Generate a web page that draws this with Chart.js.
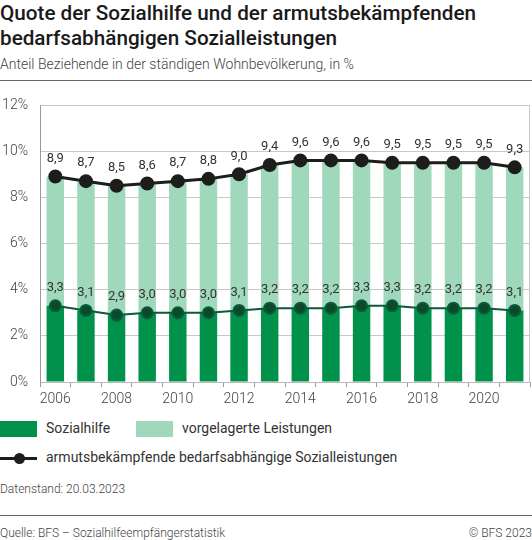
<!DOCTYPE html>
<html>
<head>
<meta charset="utf-8">
<script src="https://cdn.jsdelivr.net/npm/chart.js@4"></script>
<style>
    body { margin: 0; width: 532px; height: 540px; background: #fff; font-family: Roboto, sans-serif; color: #222; position: relative; overflow: hidden; }
    .title { position: absolute; left: 0; top: 1px; font-size: 20.7px; font-weight: 500; line-height: 25px; color: #1a1a1a; }
    .subtitle { position: absolute; left: 0; top: 56px; font-size: 14px; font-weight: 300; color: #444; }
    .rule { position: absolute; left: 0; width: 532px; height: 1px; background: #666; }
    #wrap { position: absolute; left: 0; top: 92px; width: 532px; height: 318px; }
    .leg { position: absolute; font-size: 14px; color: #333; }
    .box { position: absolute; width: 37px; height: 16px; }
    .small { position: absolute; font-size: 12px; color: #444; font-weight: 300; }
</style>
</head>
<body>
<div class="title">Quote der Sozialhilfe und der armutsbekämpfenden<br>bedarfsabhängigen Sozialleistungen</div>
<div class="subtitle">Anteil Beziehende in der ständigen Wohnbevölkerung, in %</div>
<div class="rule" style="top:80px;"></div>
<div id="wrap"><canvas id="chart"></canvas></div>

<div class="box" style="left:0; top:421px; background:#00924a;"></div>
<div class="leg" style="left:46px; top:420px;">Sozialhilfe</div>
<div class="box" style="left:136px; top:421px; background:#9fd8bb;"></div>
<div class="leg" style="left:182px; top:420px;">vorgelagerte Leistungen</div>
<div style="position:absolute; left:0; top:457px; width:37px; height:3px; background:#1d1d1b;"></div>
<div style="position:absolute; left:14px; top:453px; width:11px; height:11px; border-radius:50%; background:#1d1d1b;"></div>
<div class="leg" style="left:46px; top:449px;">armutsbekämpfende bedarfsabhängige Sozialleistungen</div>
<div class="small" style="left:0; top:482px;">Datenstand: 20.03.2023</div>
<div class="rule" style="top:515px;"></div>
<div class="small" style="left:0; top:526px;">Quelle: BFS – Sozialhilfeempfängerstatistik</div>
<div class="small" style="right:0; top:526px;">© BFS 2023</div>

<script>
const years = ['2006', '2007', '2008', '2009', '2010', '2011', '2012', '2013',
               '2014', '2015', '2016', '2017', '2018', '2019', '2020', '2021'];
const sozialhilfe = [3.3, 3.1, 2.9, 3.0, 3.0, 3.0, 3.1, 3.2, 3.2, 3.2, 3.3, 3.3, 3.2, 3.2, 3.2, 3.1];
const total = [8.9, 8.7, 8.5, 8.6, 8.7, 8.8, 9.0, 9.4, 9.6, 9.6, 9.6, 9.5, 9.5, 9.5, 9.5, 9.3];
const yTicks = [0, 2, 4, 6, 8, 10, 12];

// values above the line points, with decimal comma
const valueLabels = {
    id: 'valueLabels',
    afterDatasetsDraw(chart) {
        const ctx = chart.ctx;
        ctx.save();
        ctx.font = '13px Roboto, sans-serif';
        ctx.fillStyle = '#333';
        ctx.textAlign = 'center';
        ctx.textBaseline = 'middle';
        chart.data.datasets.forEach((ds, i) => {
            if (ds.type !== 'line') return;
            chart.getDatasetMeta(i).data.forEach((pt, j) => {
                ctx.fillText(ds.data[j].toFixed(1).replace('.', ','), pt.x, pt.y - 18);
            });
        });
        ctx.restore();
    }
};

// right border of the plot box
const frame = {
    id: 'frame',
    beforeDatasetsDraw(chart) {
        const a = chart.chartArea;
        const ctx = chart.ctx;
        ctx.save();
        ctx.strokeStyle = '#c8c8c8';
        ctx.lineWidth = 1;
        ctx.beginPath();
        ctx.moveTo(a.right - 0.5, a.top);
        ctx.lineTo(a.right - 0.5, a.bottom);
        ctx.stroke();
        ctx.restore();
    }
};

new Chart(document.getElementById('chart'), {
    type: 'bar',
    data: {
        labels: years,
        datasets: [
            {
                type: 'line',
                label: 'armutsbekämpfende bedarfsabhängige Sozialleistungen',
                data: total,
                borderColor: '#1d1d1b',
                backgroundColor: '#1d1d1b',
                borderWidth: 3,
                pointRadius: 5.5,
                tension: 0,
                order: 0
            },
            {
                type: 'line',
                label: 'Sozialhilfe (Linie)',
                data: sozialhilfe,
                borderColor: '#0b5a3c',
                backgroundColor: '#0a4a28',
                borderWidth: 2,
                pointRadius: 5.5,
                tension: 0,
                order: 1
            },
            {
                label: 'Sozialhilfe',
                data: sozialhilfe,
                backgroundColor: '#00924a',
                barPercentage: 0.57,
                categoryPercentage: 1,
                grouped: false,
                order: 3
            },
            {
                label: 'vorgelagerte Leistungen',
                data: years.map((y, i) => [sozialhilfe[i], total[i]]),
                backgroundColor: '#9fd8bb',
                barPercentage: 0.57,
                categoryPercentage: 1,
                grouped: false,
                order: 4
            }
        ]
    },
    options: {
        responsive: true,
        maintainAspectRatio: false,
        animation: false,
        layout: { autoPadding: false, padding: { top: 13, right: 2, left: 0, bottom: 0 } },
        plugins: { legend: { display: false }, tooltip: { enabled: false } },
        scales: {
            x: {
                offset: true,
                grid: { offset: true, drawOnChartArea: false, color: '#999', tickLength: 5 },
                border: { color: '#bbb' },
                ticks: {
                    autoSkip: false, maxRotation: 0, padding: 4, color: '#444',
                    font: { family: 'Roboto', size: 14, weight: '300' },
                    callback: (v, i) => (i % 2 === 0 ? years[i] : '')
                },
                afterFit: s => { s.height = 28; s.paddingLeft = 0; s.paddingRight = 0; }
            },
            y: {
                min: 0, max: 12,
                afterBuildTicks: s => { s.ticks = yTicks.map(v => ({ value: v })); },
                grid: { color: '#c8c8c8', drawTicks: false },
                border: { display: true, color: '#999' },
                ticks: {
                    padding: 12, color: '#444',
                    font: { family: 'Roboto', size: 14, weight: '300' },
                    callback: v => v + '%'
                },
                afterFit: s => { s.width = 40; s.paddingTop = 0; s.paddingBottom = 0; }
            }
        }
    },
    plugins: [valueLabels, frame]
});
</script>
</body>
</html>
